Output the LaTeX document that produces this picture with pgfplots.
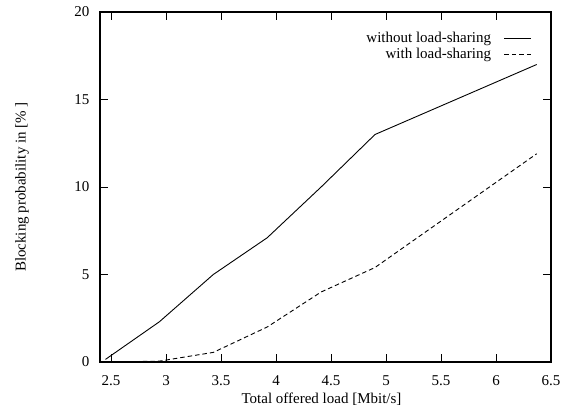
\documentclass[border=0pt]{standalone}
\usepackage{fontspec}
\setmainfont{Liberation Serif}
\usepackage{pgfplots}
\pgfplotsset{compat=1.18}
\usetikzlibrary{calc}
\begin{document}
\begin{tikzpicture}[font=\fontsize{15bp}{18bp}\selectfont]
\begin{axis}[
  scale only axis,
  width=451bp, height=350bp,
  xmin=2.4, xmax=6.5, ymin=0, ymax=20,
  xtick={2.5,3,3.5,4,4.5,5,5.5,6,6.5},
  ytick={0,5,10,15,20},
  /pgf/number format/assume math mode=true,
  xticklabel style={/pgf/number format/fixed},
  tick align=inside,
  major tick length=8bp,
  axis line style={line width=1.3bp},
  every tick/.style={line width=1bp, black},
  xlabel={Total offered load [Mbit/s]},
  ylabel={Blocking probability in [\% ]},
  xlabel style={at={(axis description cs:0.5,0)}, anchor=center, yshift=-37bp, xshift=-4bp},
  ylabel style={at={(axis description cs:-0.173,0.5)}, anchor=center},
  yticklabel style={xshift=-7bp},
  xticklabel style={yshift=-10bp},
  legend plot pos=right,
  legend cell align=right,
  legend style={draw=none, fill=none, at={(axis cs:6.328,18.95)}, anchor=north east,
    row sep=0bp, inner sep=0pt, font=\fontsize{15bp}{18bp}\selectfont},
  legend image code/.code={\path (0bp,0bp); \draw[#1] (11bp,0bp) -- (38bp,0bp);},
]
\addplot[black, line width=0.9bp] coordinates {
  (2.45,0.15) (2.94,2.3) (3.43,5.0) (3.92,7.1) (4.41,10.0) (4.90,13.0) (6.37,17.0)
};
\addlegendentry{without load-sharing}
\addplot[black, line width=0.9bp, dash pattern=on 4.5bp off 3bp] coordinates {
  (2.45,0) (2.94,0.05) (3.43,0.55) (3.92,2.0) (4.41,4.0) (4.90,5.4) (6.37,11.9)
};
\addlegendentry{with load-sharing}
\end{axis}
\path ($(current axis.south west)+(-100bp,-48bp)$) rectangle ($(current axis.north east)+(13bp,12bp)$);
\end{tikzpicture}
\end{document}
